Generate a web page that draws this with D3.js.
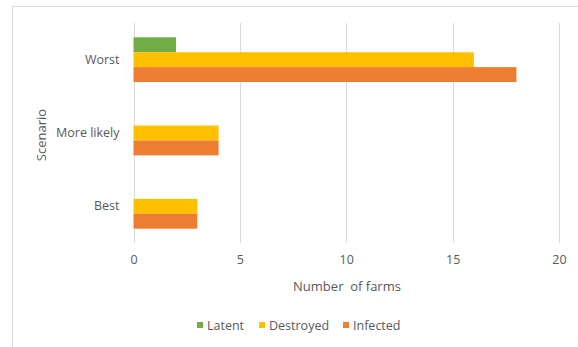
<!DOCTYPE html>
<html>
<head>
<meta charset="utf-8">
<script src="https://cdn.jsdelivr.net/npm/d3@7"></script>
<style>
  html, body { margin: 0; padding: 0; background: #fff; }
  svg text { font-family: "Open Sans", "Noto Sans", sans-serif; fill: #595959; }
</style>
</head>
<body>
<script>
// Scenario outcomes: number of farms per status
const scenarios = ["Worst", "More likely", "Best"];
const seriesNames = ["Latent", "Destroyed", "Infected"];
const latent = [2, 0, 0];
const destroyed = [16, 4, 3];
const infected = [18, 4, 3];
const xTicks = [0, 5, 10, 15, 20];
const colors = ["#70AD47", "#FFC000", "#ED7D31"];

const W = 578, H = 347;
const svg = d3.select("body").append("svg").attr("width", W).attr("height", H);

// chart frame (top and left edges only)
svg.append("line").attr("x1", 12.5).attr("x2", W).attr("y1", 6.5).attr("y2", 6.5)
  .attr("stroke", "#d9d9d9").attr("stroke-width", 1);
svg.append("line").attr("x1", 12.5).attr("x2", 12.5).attr("y1", 6.5).attr("y2", H)
  .attr("stroke", "#d9d9d9").attr("stroke-width", 1);

const plot = { left: 133.5, right: 559, top: 23, bottom: 243 };

const x = d3.scaleLinear().domain([0, 20]).range([plot.left, plot.right]);
const y = d3.scaleBand().domain(scenarios).range([plot.top, plot.bottom]).paddingInner(0.39).paddingOuter(0.195);
const ySub = d3.scaleBand().domain(seriesNames).range([0, y.bandwidth()]);

// vertical gridlines
svg.append("g").selectAll("line").data(xTicks).join("line")
  .attr("x1", d => Math.round(x(d)) + 0.5).attr("x2", d => Math.round(x(d)) + 0.5)
  .attr("y1", plot.top).attr("y2", plot.bottom)
  .attr("stroke", "#d9d9d9").attr("stroke-width", 1);

// bars
const table = scenarios.map((s, i) => ({
  scenario: s,
  values: [latent[i], destroyed[i], infected[i]]
}));
const groups = svg.append("g").selectAll("g").data(table).join("g")
  .attr("transform", d => `translate(0,${y(d.scenario)})`);
groups.selectAll("rect").data(d => d.values.map((v, j) => ({ name: seriesNames[j], v, j })))
  .join("rect")
  .attr("x", x(0))
  .attr("y", d => ySub(d.name))
  .attr("width", d => x(d.v) - x(0))
  .attr("height", ySub.bandwidth())
  .attr("fill", d => colors[d.j]);

// x axis tick labels
const xAxis = d3.axisBottom(x).tickValues(xTicks).tickSize(0).tickPadding(0);
const gx = svg.append("g").attr("transform", `translate(0,${plot.bottom + 12})`).call(xAxis);
gx.select(".domain").remove();
gx.selectAll("text").attr("font-size", 12.5).attr("dy", "0.71em")
  .attr("font-family", null).style("fill", "#595959");

// y axis category labels
const yAxis = d3.axisLeft(y).tickSize(0).tickPadding(0);
const gy = svg.append("g").attr("transform", `translate(${plot.left - 14},0)`).call(yAxis);
gy.select(".domain").remove();
gy.selectAll("text").attr("font-size", 12.5).attr("font-family", null).style("fill", "#595959");

// axis titles
svg.append("text").attr("x", 347).attr("y", 291).attr("text-anchor", "middle")
  .attr("font-size", 13).attr("xml:space", "preserve").text("Number  of farms");
svg.append("text").attr("transform", "translate(46,135) rotate(-90)")
  .attr("text-anchor", "middle").attr("font-size", 13).text("Scenario");

// legend
const legendX = [197, 259, 343];
const lg = svg.append("g").selectAll("g").data(seriesNames).join("g")
  .attr("transform", (d, i) => `translate(${legendX[i]},322)`);
lg.append("rect").attr("width", 6).attr("height", 6).attr("fill", (d, i) => colors[i]);
lg.append("text").attr("x", 10).attr("y", 7.5).attr("font-size", 12.5).text(d => d);
</script>
</body>
</html>
